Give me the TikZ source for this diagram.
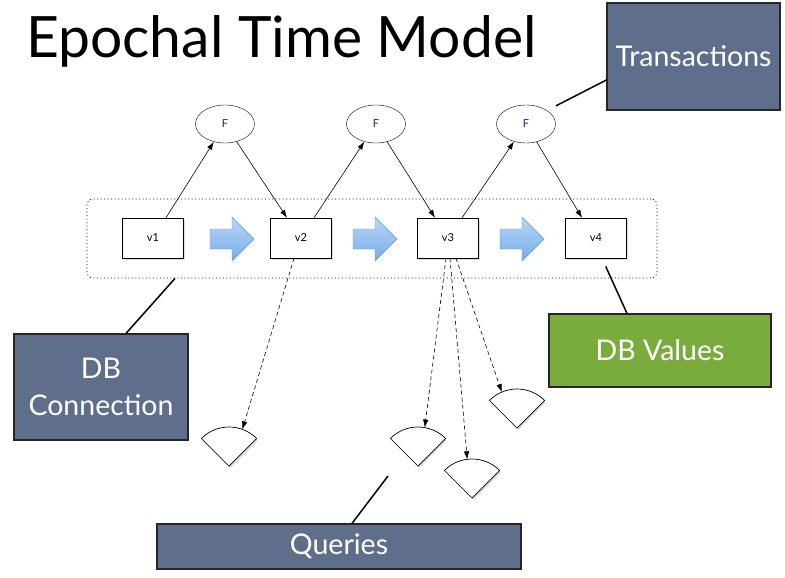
\documentclass[tikz,border=0pt]{standalone}
\usepackage{fontspec}
\setmainfont{Lato}
\usepackage{xcolor}
\usetikzlibrary{arrows.meta,shapes.geometric,shadows}

\definecolor{slate}{RGB}{95,110,138}
\definecolor{dbgreen}{RGB}{122,171,61}
\definecolor{fnavy}{RGB}{30,40,100}
\definecolor{bluelight}{RGB}{185,215,248}
\definecolor{bluedark}{RGB}{118,172,232}
\definecolor{blueedge}{RGB}{100,150,215}

\begin{document}
\begin{tikzpicture}[x=1pt, y=-1pt,
    vbox/.style={draw, fill=white, minimum width=61pt, minimum height=40pt,
        font=\fontsize{11}{13}\selectfont,
        drop shadow={opacity=0.25, shadow xshift=1pt, shadow yshift=-2pt}},
    fnode/.style={draw, ellipse, fill=white, minimum width=59pt, minimum height=38pt,
        inner sep=0pt, text=fnavy, font=\fontsize{11}{13}\selectfont},
    callout/.style={draw=black!85, line width=1.2pt, fill=slate, text=white,
        font=\fontsize{28.5}{37}\selectfont, align=center},
    arrow/.style={-{Latex[length=8pt,width=5.5pt]}, line width=0.6pt},
    dasharrow/.style={arrow, dash pattern=on 4pt off 3pt},
    link/.style={line width=1.5pt},
    wedge/.style={draw, fill=white, line width=0.7pt,
        drop shadow={opacity=0.3, shadow xshift=1pt, shadow yshift=-2pt}}
]

\fill[white, use as bounding box] (0,0) rectangle (785,578);

\node[anchor=base west, inner sep=0pt, font=\fontsize{57}{57}\selectfont] (title) at (26,58) {Epochal Time Model};

% version chain
\node[draw, line width=0.8pt, dash pattern=on 1pt off 2.5pt, rounded corners=6pt,
    minimum width=570pt, minimum height=79pt] (grp) at (372,238.5) {};

\node[vbox] (v1) at (153,238) {v1};
\node[vbox] (v2) at (301,238) {v2};
\node[vbox] (v3) at (448,238) {v3};
\node[vbox] (v4) at (596,238) {v4};

\node[fnode] (F1) at (225,124) {F};
\node[fnode] (F2) at (376,124) {F};
\node[fnode] (F3) at (526,124) {F};

\foreach \cx in {232,375,522} {
    \draw[draw=blueedge, top color=bluelight, bottom color=bluedark]
        (\cx-22,229) -- (\cx,229) -- (\cx,217) -- (\cx+22,239) -- (\cx,261) -- (\cx,249) -- (\cx-22,249) -- cycle;
}

% transitions
\draw[arrow] ([xshift=13pt]v1.north) -- (F1);
\draw[arrow] (F1) -- ([xshift=-14pt]v2.north);
\draw[arrow] ([xshift=13pt]v2.north) -- (F2);
\draw[arrow] (F2) -- ([xshift=-13pt]v3.north);
\draw[arrow] ([xshift=14pt]v3.north) -- (F3);
\draw[arrow] (F3) -- ([xshift=-14pt]v4.north);

% queries
\foreach \n/\x/\y/\a in {1/229/466/290, 2/418/466/280, 3/472/498/263, 4/517/428/247} {
    \coordinate (q\n) at (\x,\y);
    \draw[wedge] (q\n) -- ++(225:39) arc[start angle=225, end angle=315, radius=39] -- cycle;
    \coordinate (q\n t) at ([shift={(\a:39)}]q\n);
}

\draw[dasharrow] ([xshift=-7pt]v2.south) -- (q1t);
\draw[dasharrow] ([xshift=-2pt]v3.south) -- (q2t);
\draw[dasharrow] ([xshift=2pt]v3.south) -- (q3t);
\draw[dasharrow] ([xshift=8pt]v3.south) -- (q4t);

% labels
\node[callout, minimum width=173pt, minimum height=107pt] (trans) at (693.5,56.5) {Transactions};
\node[callout, minimum width=174pt, minimum height=106pt] (conn) at (101,387) {DB\\Connection};
\node[callout, fill=dbgreen, minimum width=222pt, minimum height=73pt] (vals) at (660,350.5) {DB Values};
\node[callout, minimum width=364pt, minimum height=45pt] (queries) at (339,546.5) {Queries};

\coordinate (qend) at (388,476);

\draw[link] ([xshift=25pt]conn.north) -- ([xshift=22pt]v1.south |- grp.south);
\draw[link, shorten >=10pt] ([yshift=-23.5pt]trans.west) -- (F3.north east);
\draw[link, shorten >=9pt] ([xshift=-33pt]vals.north) -- ([xshift=6pt]v4.south);
\draw[link] ([xshift=13pt]queries.north) -- (qend);

\end{tikzpicture}
\end{document}
